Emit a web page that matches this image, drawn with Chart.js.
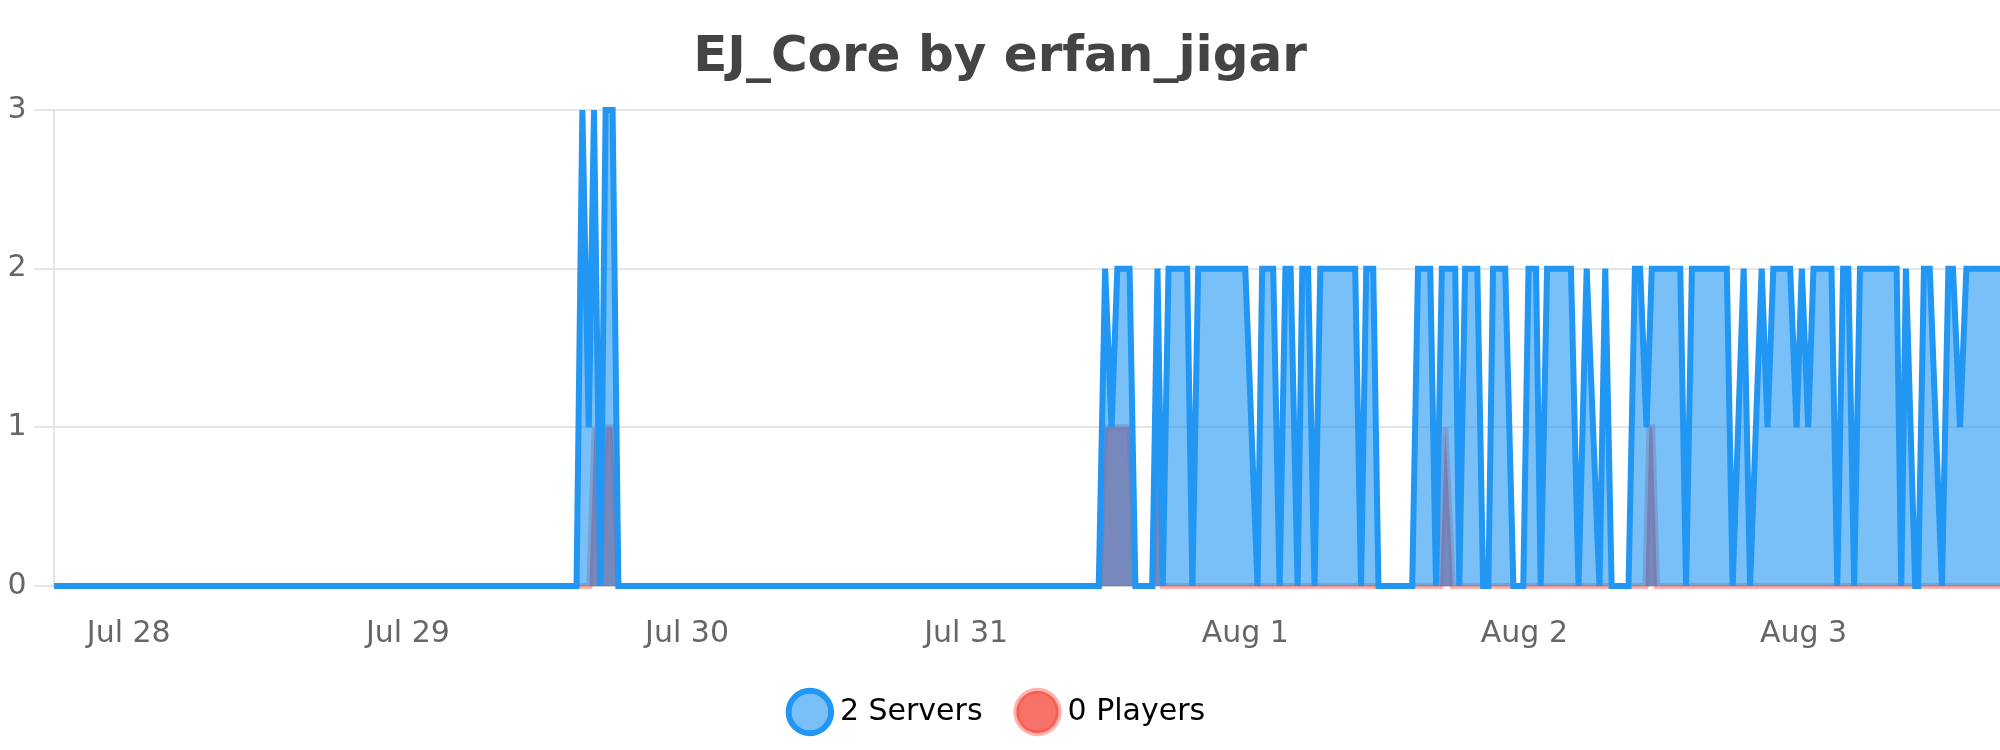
<!DOCTYPE html>
<html lang="en">
<head>
  <meta charset="UTF-8" />
  <title>EJ_Core by erfan_jigar</title>
  <script src="https://cdn.jsdelivr.net/npm/chart.js"></script>
  <style>
    html, body { margin: 0; padding: 0; background: #fff }
    .wrap { width: 2000px; height: 750px; position: relative }
  </style>
</head>
<body>
  <div class="wrap"><canvas id="statsChart"></canvas></div>

  <script>
    // hours counted from Jul 28 00:00
    const dayLabels = ['Jul 28', 'Jul 29', 'Jul 30', 'Jul 31', 'Aug 1', 'Aug 2', 'Aug 3'];

    const serverTimes = [
      -6.42,
      38.5, 39.0, 39.55, 40.0, 40.55, 41.0, 41.6, 42.1,
      83.4, 83.95, 84.5, 85.0, 86.05, 86.55,
      88.0, 88.45, 88.9, 89.4,
      91.0, 91.45, 91.95,
      96.0, 97.05, 97.45,
      98.4, 98.95, 99.45,
      99.9, 100.5, 100.9,
      101.4, 101.95, 102.45,
      105.45, 105.95, 106.4,
      107.0, 107.45,
      110.35, 110.85,
      111.9, 112.4, 112.9,
      114.05, 114.4, 114.9,
      115.95, 116.45, 116.9, 117.3,
      118.35, 119.05, 119.9, 120.35,
      121.0, 121.4, 121.95,
      124.0, 124.65, 125.35, 126.45, 126.95, 127.5,
      128.95, 129.5, 129.95, 130.5, 130.95,
      133.4, 133.9, 134.4,
      137.4, 137.9, 138.85, 139.4, 140.4, 140.9, 141.4,
      142.85, 143.4, 143.85, 144.4, 144.85,
      146.4, 146.9, 147.4, 147.85, 148.35, 148.85,
      152.0, 152.4, 152.8, 153.6, 153.85, 154.35, 154.85,
      155.9, 156.45, 156.85, 157.45, 158.0,
      160.89
    ];
    const serverValues = [
      0,
      0, 3, 1, 3, 0, 3, 3, 0,
      0, 2, 1, 2, 2, 0,
      0, 2, 0, 2,
      2, 0, 2,
      2, 0, 2,
      2, 0, 2,
      2, 0, 2,
      2, 0, 2,
      2, 0, 2,
      2, 0,
      0, 2,
      2, 0, 2,
      2, 0, 2,
      2, 0, 0, 2,
      2, 0, 0, 2,
      2, 0, 2,
      2, 0, 2, 0, 2, 0,
      0, 2, 2, 1, 2,
      2, 0, 2,
      2, 0, 2, 0, 2, 1, 2,
      2, 1, 2, 1, 2,
      2, 0, 2, 2, 0, 2,
      2, 0, 2, 0, 0, 2, 2,
      0, 2, 2, 1, 2,
      2
    ];

    const playerTimes = [
      -6.42,
      39.6, 40.05, 40.55, 41.0, 41.6, 42.1,
      83.45, 83.95, 86.05, 86.55,
      88.0, 88.45, 88.9,
      112.75, 113.2, 113.85,
      130.4, 130.75, 131.0, 131.4,
      160.89
    ];
    const playerValues = [
      0,
      0, 1, 0, 1, 1, 0,
      0, 1, 1, 0,
      0, 1, 0,
      0, 1, 0,
      0, 1, 1, 0,
      0
    ];

    const toPoints = (times, values) => times.map((t, i) => ({ x: t, y: values[i] }));

    Chart.defaults.font.family = "'DejaVu Sans', sans-serif";
    Chart.defaults.font.size = 30;
    Chart.defaults.color = '#666';

    const ctx = document.getElementById('statsChart').getContext('2d');
    new Chart(ctx, {
      type: 'line',
      data: {
        datasets: [
          {
            label: '2 Servers',
            data: toPoints(serverTimes, serverValues),
            borderColor: '#2196F3',
            backgroundColor: 'rgba(33,150,243,0.6)',
            borderWidth: 6,
            pointRadius: 0,
            fill: true
          },
          {
            label: '0 Players',
            data: toPoints(playerTimes, playerValues),
            borderColor: 'rgba(244,67,54,0.4)',
            backgroundColor: 'rgba(244,67,54,0.75)',
            borderWidth: 6,
            pointRadius: 0,
            fill: true
          }
        ]
      },
      options: {
        responsive: true,
        maintainAspectRatio: false,
        animation: false,
        layout: { padding: { left: 0, right: 0, top: 0, bottom: 13 } },
        scales: {
          x: {
            type: 'linear',
            min: serverTimes[0],
            max: serverTimes[serverTimes.length - 1],
            grid: { display: false, tickLength: 20 },
            border: { color: 'rgba(0,0,0,0.1)', width: 2 },
            ticks: {
              stepSize: 24,
              includeBounds: false,
              autoSkip: false,
              maxRotation: 0,
              padding: 10,
              callback: v => dayLabels[Math.round(v / 24)] || ''
            },
            afterFit: s => { s.height -= 5; }
          },
          y: {
            beginAtZero: true,
            grid: { color: 'rgba(0,0,0,0.1)', lineWidth: 2, tickLength: 20 },
            border: { color: 'rgba(0,0,0,0.1)', width: 2 },
            ticks: { stepSize: 1, padding: 7.5 }
          }
        },
        plugins: {
          title: {
            display: true,
            text: 'EJ_Core by erfan_jigar',
            color: '#444',
            font: { size: 50, weight: 'bold' },
            padding: { top: 28, bottom: 22 }
          },
          legend: {
            position: 'bottom',
            labels: { usePointStyle: true, color: '#000', padding: 40 }
          },
          tooltip: { enabled: false }
        }
      }
    });
  </script>
</body>
</html>
